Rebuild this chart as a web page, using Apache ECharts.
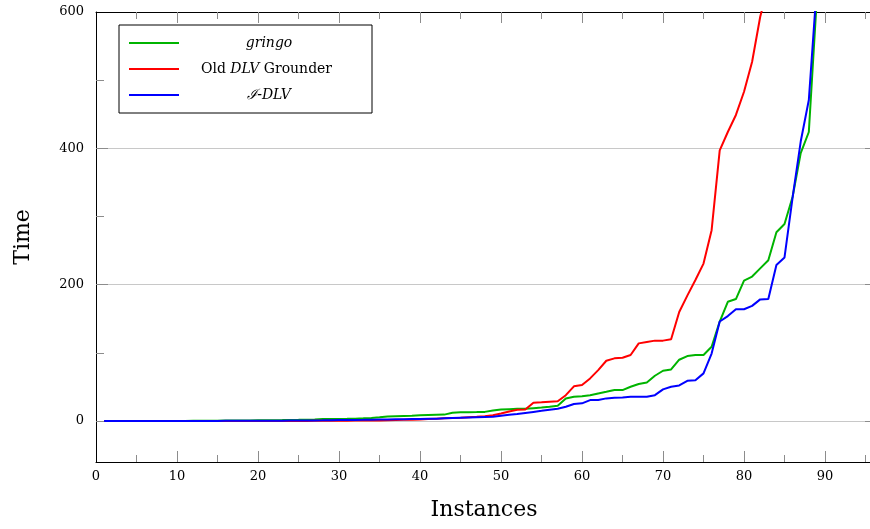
<!DOCTYPE html>
<html>
<head>
<meta charset="utf-8">
<script src="https://cdn.jsdelivr.net/npm/echarts@6/dist/echarts.min.js"></script>
<style>html,body{margin:0;padding:0;background:#fff;overflow:hidden;}#c{width:880px;height:529px;}</style>
</head>
<body>
<div id="c"></div>
<script>
// Instances 1..89
const instances = Array.from({length: 89}, (_, i) => i + 1);

const gringo = [
  0.1, 0.1, 0.1, 0.1, 0.2, 0.2, 0.2, 0.2, 0.3, 0.3,
  0.3, 0.4, 0.4, 0.5, 0.5, 0.7, 0.8, 0.9, 1.0, 1.1,
  1.2, 1.4, 1.5, 1.7, 1.8, 2.0, 2.4, 3.0, 3.1, 3.2,
  3.3, 3.6, 4.0, 4.5, 5.5, 6.8, 7.2, 7.6, 8.0, 8.5,
  9.0, 9.3, 9.5, 12.2, 13.0, 13.1, 13.2, 13.5, 15.5, 17.0,
  17.5, 18.0, 18.2, 19.0, 19.8, 21, 22.5, 33, 35.7, 36.6,
  38, 40.6, 43, 45.5, 45.5, 50.4, 54.3, 56.7, 66.5, 73.8,
  75.8, 90, 95.4, 97, 97, 109, 146, 175, 179, 206,
  212, 224, 236, 277, 289, 329, 393, 424, 622
];

const oldDLV = [
  0, 0, 0, 0, 0, 0, 0, 0, 0, 0,
  0.1, 0.1, 0.1, 0.1, 0.1, 0.1, 0.1, 0.1, 0.1, 0.1,
  0.2, 0.2, 0.2, 0.3, 0.3, 0.3, 0.4, 0.4, 0.5, 0.5,
  0.6, 0.7, 0.8, 0.9, 1.0, 1.2, 1.5, 1.8, 2.1, 2.4,
  3.0, 3.5, 4.0, 4.5, 5.0, 5.6, 6.2, 7.0, 8.5, 11,
  14, 16.5, 17, 27, 27.5, 28.5, 29, 38, 51, 53,
  62.6, 74.8, 88.5, 92, 93, 97, 114, 116, 118, 118,
  120, 160, 184, 207, 231, 280, 397, 424, 449, 483,
  527, 593, 640
];

const iDLV = [
  0.1, 0.1, 0.1, 0.1, 0.1, 0.1, 0.2, 0.2, 0.2, 0.2,
  0.2, 0.3, 0.3, 0.3, 0.3, 0.4, 0.4, 0.4, 0.5, 0.5,
  0.5, 0.6, 0.6, 0.7, 0.8, 0.9, 1.0, 1.1, 1.3, 1.5,
  1.6, 1.7, 1.8, 2.0, 2.2, 2.4, 2.6, 2.8, 3.0, 3.2,
  3.4, 3.6, 4.0, 4.4, 4.8, 5.2, 5.6, 6.0, 6.4, 8.0,
  9.3, 10.5, 12, 13.5, 15, 16.6, 18, 21, 25, 26,
  30.8, 30.8, 33.3, 34.2, 34.7, 35.7, 35.7, 35.7, 38, 46.5,
  50.4, 52.3, 59, 60, 70, 99, 146, 154, 164, 164,
  169, 178.5, 179, 229, 240, 328, 410, 471, 640
];

const xLabelValues = [0, 10, 20, 30, 40, 50, 60, 70, 80, 90];
const xMajorTicks = [10, 20, 30, 40, 50, 60, 70, 80, 90];
const xMinorTicks = [5, 15, 25, 35, 45, 55, 65, 75, 85, 95];
const yLabelValues = [0, 200, 400, 600];
const yMajorTicks = [0, 200, 400];
const yMinorTicks = [100, 300, 500];

const seriesNames = ['gringo', 'Old DLV Grounder', 'I-DLV'];
const seriesColors = ['#00b400', '#ff0000', '#0000ff'];

const FONT = 'DejaVu Serif';
const X_MIN = 0, X_MAX = 95.8, Y_MIN = -60, Y_MAX = 600;

function pairs(vals) { return vals.map((v, i) => [instances[i], v]); }

const tickColor = '#8c8c8c';
const gridBox = { left: 96, right: 8, top: 12, bottom: 67, containLabel: false };

function xAxisDef(grid, pos, ticks, len, showLine, labels, name) {
  return {
    type: 'value', gridIndex: grid, position: pos, min: X_MIN, max: X_MAX,
    axisLine: { show: showLine, onZero: false, lineStyle: { color: '#000', width: 1 } },
    axisTick: { show: true, inside: true, length: len, customValues: ticks, lineStyle: { color: tickColor } },
    axisLabel: labels ? { show: true, customValues: xLabelValues, margin: 8, color: '#000', fontFamily: FONT, fontSize: 13 } : { show: false },
    splitLine: { show: false },
    name: name || '', nameLocation: 'middle', nameGap: 37,
    nameTextStyle: { fontFamily: FONT, fontSize: 22, color: '#000' }
  };
}
function yAxisDef(grid, pos, ticks, len, showLine, labels, split, name) {
  return {
    type: 'value', gridIndex: grid, position: pos, min: Y_MIN, max: Y_MAX,
    axisLine: { show: showLine, onZero: false, lineStyle: { color: '#000', width: 1 } },
    axisTick: { show: true, inside: true, length: len, customValues: ticks, lineStyle: { color: tickColor } },
    axisLabel: labels ? { show: true, customValues: yLabelValues, margin: 12, color: '#000', fontFamily: FONT, fontSize: 13 } : { show: false },
    splitLine: { show: split, lineStyle: { color: '#c8c8c8', width: 1 } },
    name: name || '', nameLocation: 'middle', nameGap: 62, nameRotate: 90,
    nameTextStyle: { fontFamily: FONT, fontSize: 22, color: '#000' }
  };
}

const chart = echarts.init(document.getElementById('c'), null, { renderer: 'canvas' });
chart.setOption({
  animation: false,
  backgroundColor: '#fff',
  grid: [Object.assign({}, gridBox), Object.assign({}, gridBox)],
  xAxis: [
    xAxisDef(0, 'bottom', xMajorTicks, 11, true, true, 'Instances'),
    xAxisDef(0, 'top', xMajorTicks, 11, true, false),
    xAxisDef(1, 'bottom', xMinorTicks, 7, false, false),
    xAxisDef(1, 'top', xMinorTicks, 7, false, false)
  ],
  yAxis: [
    yAxisDef(0, 'left', yMajorTicks, 12, true, true, true, 'Time'),
    yAxisDef(0, 'right', yMajorTicks, 7, false, false, false),
    yAxisDef(1, 'left', yMinorTicks, 8, false, false, false)
  ],
  legend: {
    orient: 'vertical', left: 119, top: 25,
    backgroundColor: '#fff', borderColor: '#000', borderWidth: 1,
    padding: [11, 18, 11, 10], itemGap: 12,
    itemWidth: 50, itemHeight: 2, icon: 'rect',
    data: seriesNames,
    textStyle: {
      fontFamily: FONT, fontSize: 14, color: '#000', lineHeight: 14,
      rich: {
        c: { fontFamily: FONT, fontSize: 14, fontStyle: 'italic', width: 170, align: 'center', lineHeight: 14 },
        p: { width: 17, lineHeight: 14 },
        i: { fontFamily: FONT, fontSize: 14, fontStyle: 'italic', lineHeight: 14 },
        n: { fontFamily: FONT, fontSize: 14, lineHeight: 14 }
      }
    },
    formatter: function (name) {
      if (name === 'gringo') return '{c|gringo}';
      if (name === 'I-DLV') return '{c|\u2110-DLV}';
      return '{p| }{n|Old }{i|DLV}{n| Grounder}';
    }
  },
  series: [
    { name: seriesNames[0], data: pairs(gringo) },
    { name: seriesNames[1], data: pairs(oldDLV) },
    { name: seriesNames[2], data: pairs(iDLV) }
  ].map((s, k) => Object.assign(s, {
    type: 'line', xAxisIndex: 0, yAxisIndex: 0, showSymbol: false, symbol: 'none',
    clip: true, color: seriesColors[k],
    lineStyle: { color: seriesColors[k], width: 2 }
  }))
});
</script>
</body>
</html>
